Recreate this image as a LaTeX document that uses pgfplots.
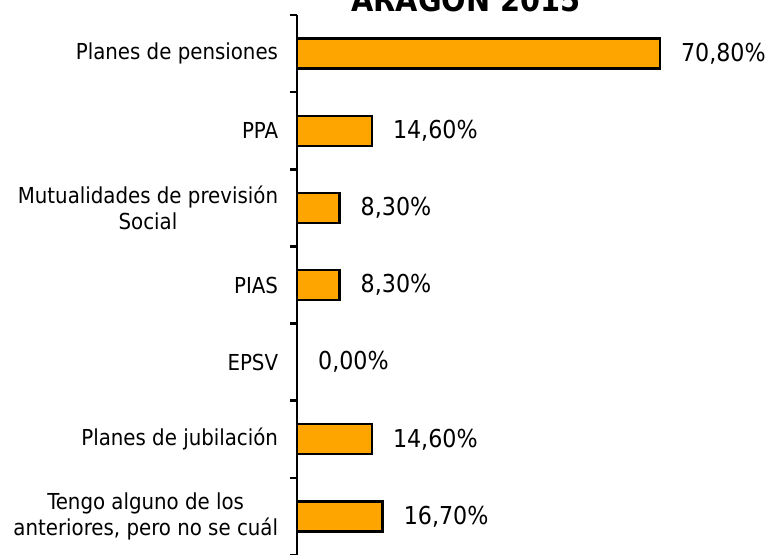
\documentclass[border=0pt]{standalone}
\usepackage{fontspec}
\setmainfont{DejaVu Sans Condensed}
\usepackage{pgfplots}
\pgfplotsset{compat=1.18}
\definecolor{barorange}{HTML}{FFA500}

\begin{document}
\begin{tikzpicture}[x=0.75pt,y=0.75pt]
\begin{axis}[
    at={(222.75pt,0pt)}, anchor=south west,
    scale only axis, width=307.5pt, height=405pt,
    xbar, bar width=22.5pt,
    xmin=0, xmax=80,
    ymin=-0.5, ymax=6.5, y dir=reverse,
    hide x axis,
    axis y line=left,
    axis line style={-, line width=2pt},
    ytick={0,...,6},
    yticklabels={Planes de pensiones, PPA, {Mutualidades de previsión\\Social}, PIAS, EPSV, Planes de jubilación, {Tengo alguno de los\\anteriores, pero no se cuál}},
    major tick length=0pt,
    minor ytick={-0.5,0.5,...,6.5},
    minor tick length=5pt,
    tick align=outside,
    tick style={line width=2pt, black},
    yticklabel style={align=center, font=\fontsize{16.5}{19.5}\selectfont, inner sep=0pt, xshift=-14pt},
    /pgf/number format/assume math mode=true,
    nodes near coords={\pgfmathprintnumber[fixed, fixed zerofill, precision=2, use comma]{\pgfplotspointmeta}\%},
    nodes near coords style={anchor=west, inner sep=0pt, xshift=15pt, font=\fontsize{18.5}{22}\selectfont},
    point meta=x,
    clip=false,
]
\addplot[fill=barorange, draw=black, line width=1.8pt] coordinates {
    (70.8,0) (14.6,1) (8.3,2) (8.3,3) (0,4) (14.6,5) (16.7,6)
};
\end{axis}
\node[anchor=base, font=\bfseries\fontsize{24}{28}\selectfont] at (466,543) {ARAGÓN 2015};
\pgfresetboundingbox
\useasboundingbox (0,0) rectangle (771,555);
\end{tikzpicture}
\end{document}
